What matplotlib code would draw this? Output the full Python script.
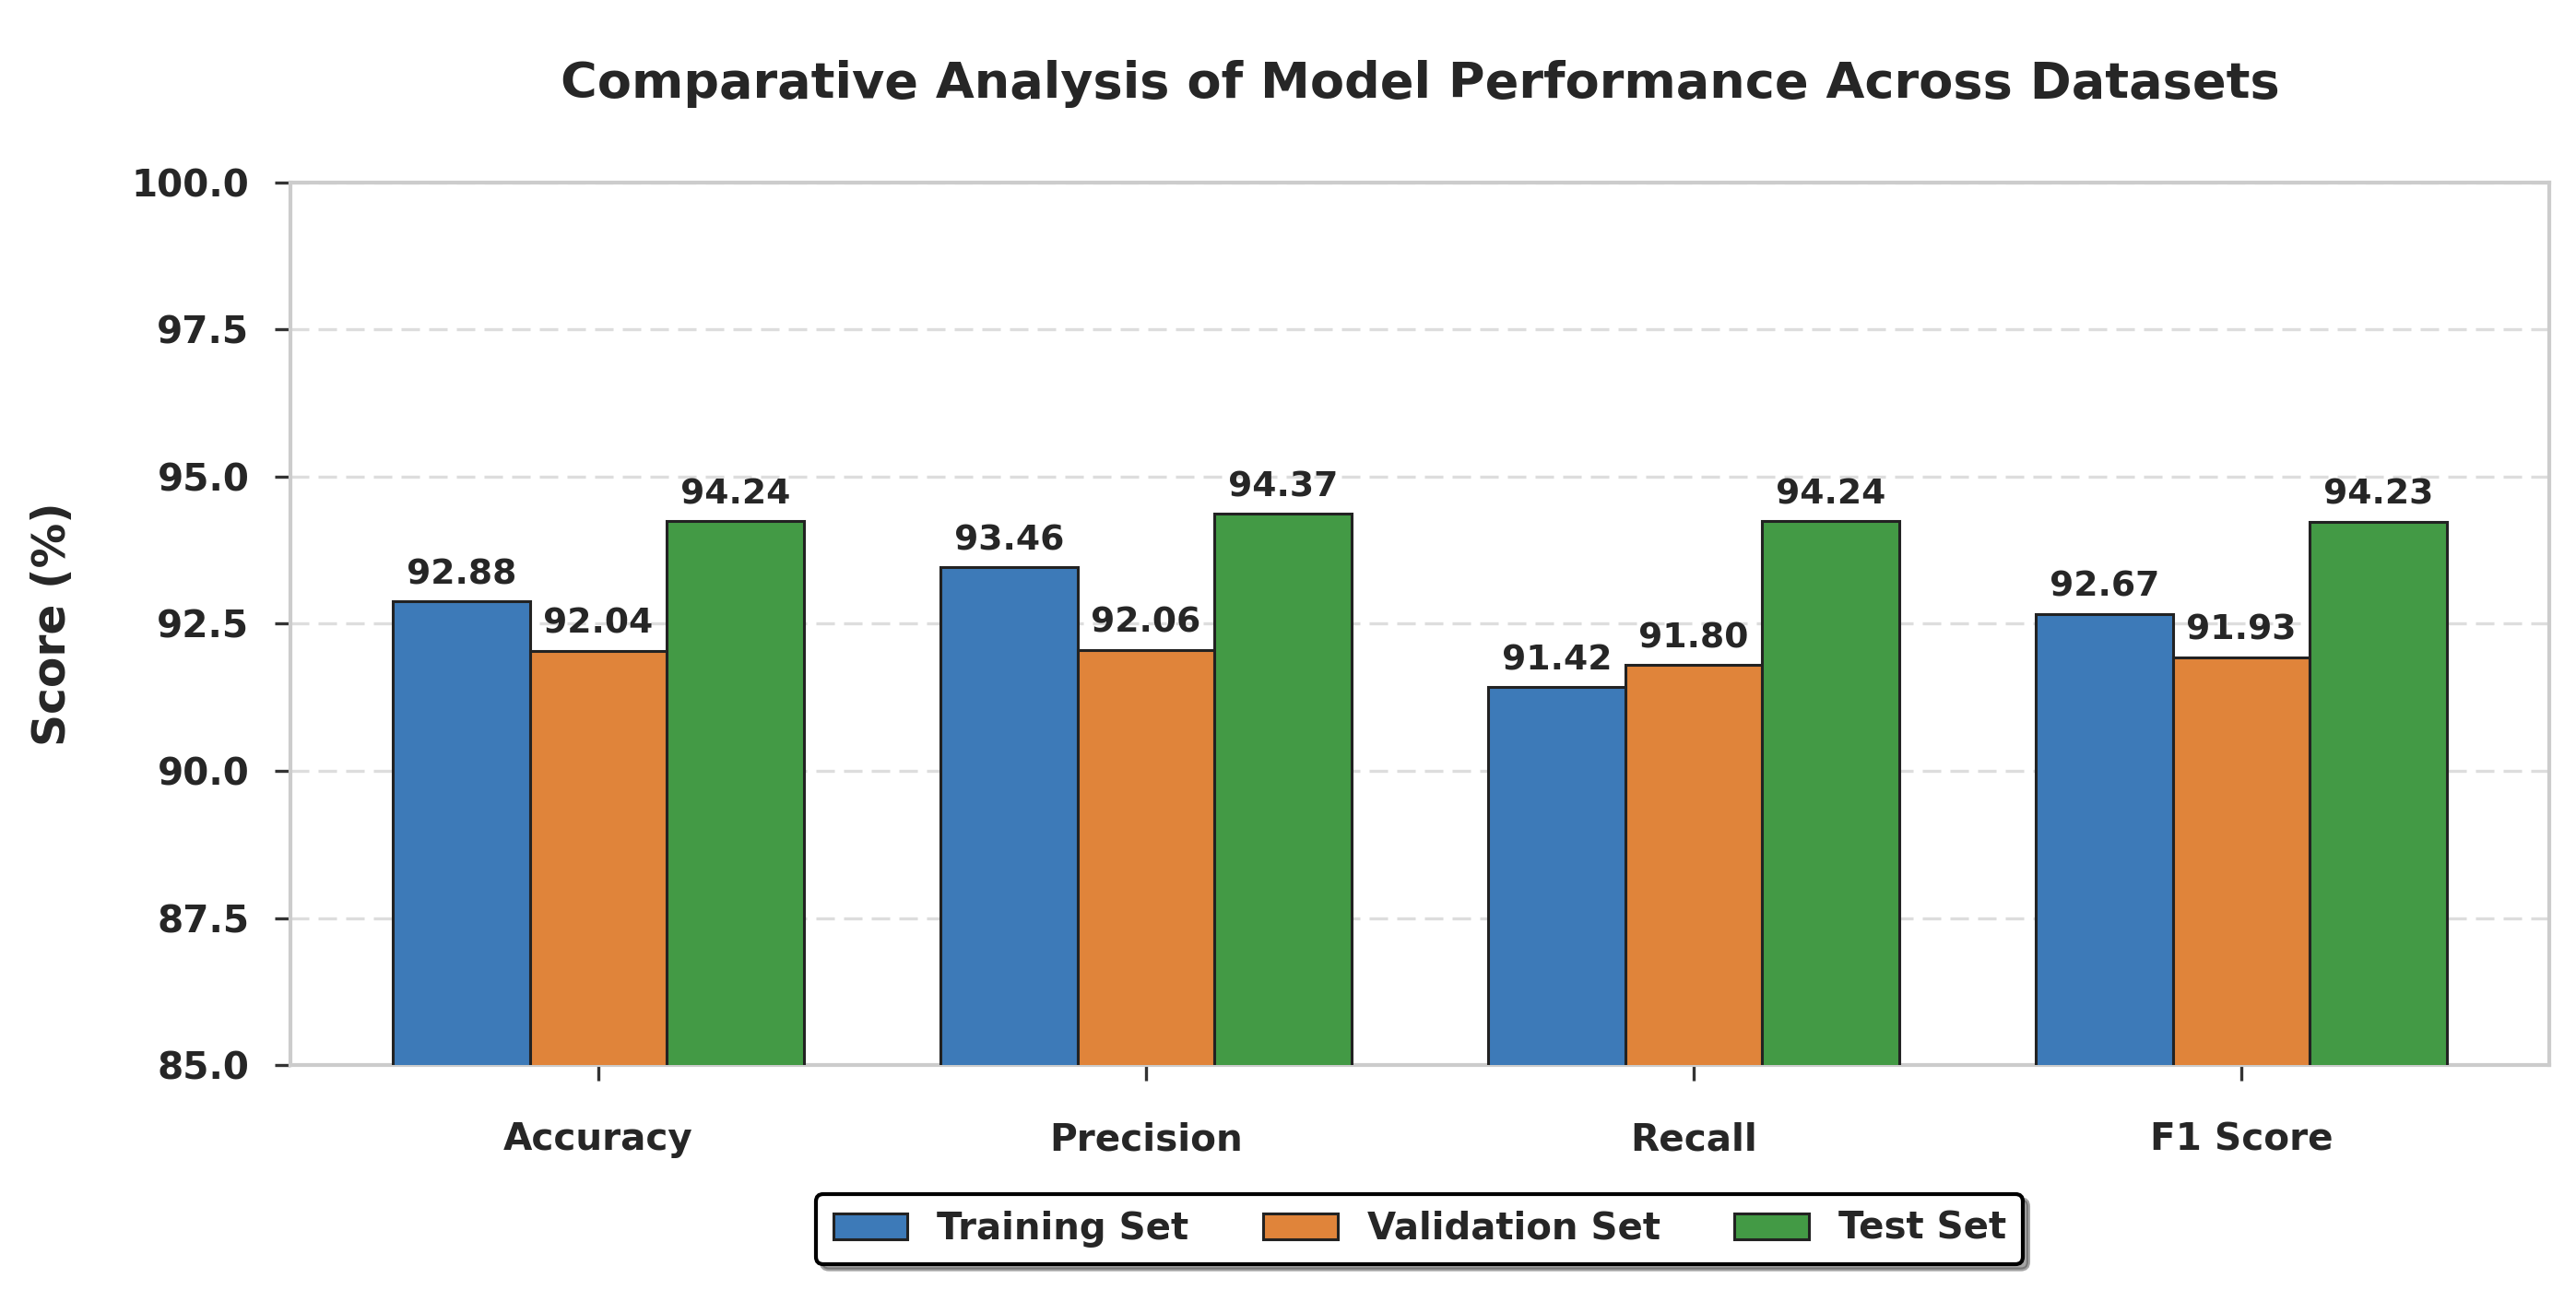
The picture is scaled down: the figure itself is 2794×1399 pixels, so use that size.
import numpy as np
import matplotlib
matplotlib.use("Agg")
import matplotlib.pyplot as plt

metrics = ["Accuracy", "Precision", "Recall", "F1 Score"]
train_scores = [92.88, 93.46, 91.42, 92.67]
val_scores = [92.04, 92.06, 91.80, 91.93]
test_scores = [94.24, 94.37, 94.24, 94.23]
series_names = ["Training Set", "Validation Set", "Test Set"]
colors = ["#3d7ab8", "#e0843a", "#439a45"]

plt.rcParams["font.family"] = ["DejaVu Sans"]
plt.rcParams["font.weight"] = "bold"
text_col = "#262626"

fig = plt.figure(figsize=(13.97, 6.995), dpi=200)
ax = fig.add_axes([0.1127, 0.1744, 0.8769, 0.6841])

x = np.arange(len(metrics))
w = 0.25
for i, (vals, name) in enumerate(zip([train_scores, val_scores, test_scores], series_names)):
    bars = ax.bar(x + (i - 1) * w, vals, w, label=name, color=colors[i],
                  edgecolor="#222222", linewidth=1.1, zorder=3)
    ax.bar_label(bars, fmt="%.2f", padding=4, fontsize=13.6, fontweight="bold", color=text_col)

ax.set_ylim(85, 100)
ax.set_yticks(np.arange(85, 100.1, 2.5))
ax.set_yticklabels([f"{v:.1f}" for v in np.arange(85, 100.1, 2.5)])
ax.set_xticks(x)
ax.set_xticklabels(metrics)
ax.tick_params(axis="both", labelsize=14.6, colors="#333333", length=6, width=1.2,
               labelcolor=text_col)
ax.tick_params(axis="y", pad=10)
ax.tick_params(axis="x", pad=16)
for lab in ax.get_xticklabels() + ax.get_yticklabels():
    lab.set_fontweight("bold")

ax.yaxis.grid(True, linestyle=(0, (6, 3)), color="#dddddd", linewidth=1.2, zorder=0)
ax.set_axisbelow(True)
for s in ax.spines.values():
    s.set_color("#cccccc")
    s.set_linewidth(1.5)

ax.set_ylabel("Score (%)", fontsize=17.5, fontweight="bold", color=text_col, labelpad=22)
ax.set_title("Comparative Analysis of Model Performance Across Datasets",
             fontsize=19.5, fontweight="bold", color=text_col, pad=33)

leg = ax.legend(loc="upper center", bbox_to_anchor=(0.5, -0.125), ncol=3, fontsize=14.5,
                frameon=True, fancybox=True, shadow=True, edgecolor="black",
                columnspacing=2.0, handlelength=2.0, borderpad=0.45)
leg.get_frame().set_linewidth(1.5)
leg.get_frame().set_alpha(1)
for t in leg.get_texts():
    t.set_color(text_col)

fig.savefig("out.png", dpi=200, facecolor="white")
